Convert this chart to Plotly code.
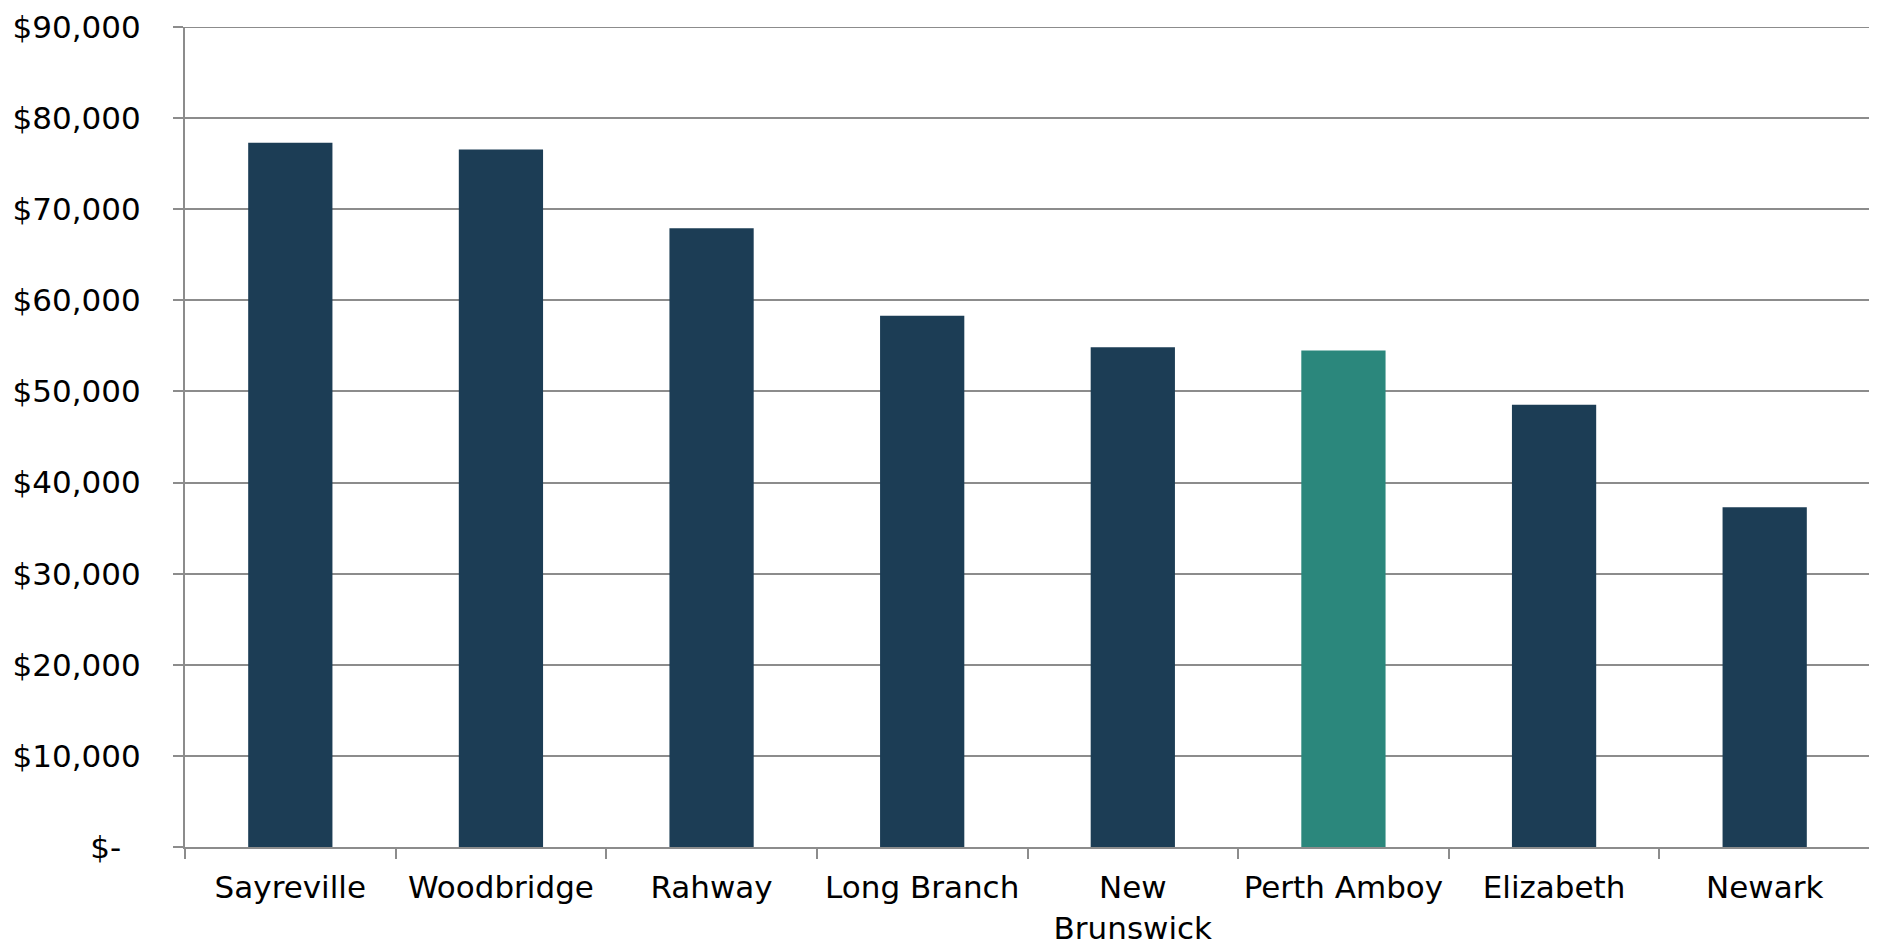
import plotly.graph_objects as go

cities = ["Sayreville", "Woodbridge", "Rahway", "Long Branch", "New<br>Brunswick",
          "Perth Amboy", "Elizabeth", "Newark"]
income = [77300, 76550, 67900, 58300, 54850, 54500, 48530, 37300]
highlight = "Perth Amboy"

dark = "#1C3D55"
teal = "#2B877C"
colors = [teal if c == highlight else dark for c in cities]

y_ticks = [0, 10000, 20000, 30000, 40000, 50000, 60000, 70000, 80000, 90000]
y_labels = ["$-\u00a0\u00a0", "$10,000", "$20,000", "$30,000", "$40,000", "$50,000",
            "$60,000", "$70,000", "$80,000", "$90,000"]

grid = "#8C8C8C"
font = "DejaVu Sans"
fsize = 31

fig = go.Figure(go.Bar(x=cities, y=income, marker=dict(color=colors, line=dict(width=0)),
                       width=0.4))

# the page adds an 8px body margin, so the figure is sized to end at the window edge
fig.update_layout(
    width=1869, height=937,
    margin=dict(l=176.5, r=7, t=18.5, b=98.4, autoexpand=False),
    plot_bgcolor="white", paper_bgcolor="white",
    showlegend=False,
    font=dict(family=font, size=fsize, color="black"),
)
# top gridline at the edge of the range
fig.add_shape(type="line", xref="paper", yref="y", x0=0, x1=1,
              y0=y_ticks[-1], y1=y_ticks[-1], line=dict(color=grid, width=2))
fig.update_xaxes(
    automargin=False,
    showline=True, linecolor=grid, linewidth=2,
    ticks="outside", tickson="boundaries", ticklen=10, tickcolor=grid, tickwidth=1.5,
    tickfont=dict(family=font, size=fsize, color="black"),
    ticklabelstandoff=12,
    showgrid=False,
)
fig.update_yaxes(
    automargin=False,
    range=[0, 90000],
    tickvals=y_ticks, ticktext=y_labels,
    showgrid=True, gridcolor=grid, gridwidth=2,
    showline=True, linecolor=grid, linewidth=2,
    ticks="outside", ticklen=10, tickcolor=grid, tickwidth=2,
    tickfont=dict(family=font, size=fsize, color="black"),
    ticklabelstandoff=26,
    zeroline=False,
)

fig.write_html("out.html")
